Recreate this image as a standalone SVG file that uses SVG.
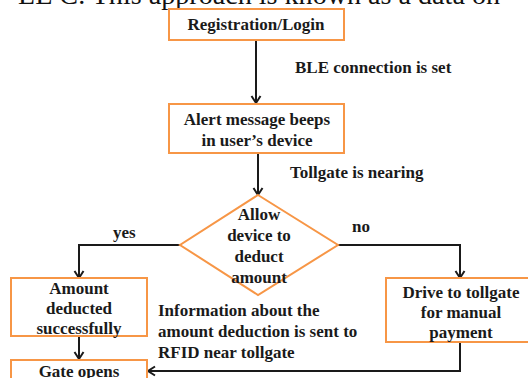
<svg xmlns="http://www.w3.org/2000/svg" width="528" height="378" viewBox="0 0 528 378">
<defs>
<style>
.box{fill:#ffffff;stroke:#F79646;stroke-width:2}
.t{font-family:"Liberation Serif","Times New Roman",serif;font-weight:bold;font-size:17px;fill:#1a1a1a;text-anchor:middle}
.lbl{font-family:"Liberation Serif","Times New Roman",serif;font-weight:bold;font-size:17px;fill:#1a1a1a}
.c{fill:none;stroke:#1a1a1a;stroke-width:2;marker-end:url(#ah)}
</style>
<marker id="ah" markerUnits="userSpaceOnUse" markerWidth="12" markerHeight="12" viewBox="0 0 12 12" refX="10" refY="6" orient="auto">
<path d="M3,1.5 L10,6 L3,10.5" fill="none" stroke="#1a1a1a" stroke-width="2"/>
</marker>
</defs>
<rect width="528" height="378" fill="#ffffff"/>
<text x="18" y="4" font-family="Liberation Serif,serif" font-size="28" fill="#111" textLength="482" lengthAdjust="spacingAndGlyphs">LE C. This approach is known as a data on</text>

<g id="connectors">
<path class="c" d="M256,40 L256,103"/>
<path class="c" d="M258,153 L258,195"/>
<path class="c" d="M180,245 L79,245 L79,278"/>
<path class="c" d="M338,245 L460,245 L460,278"/>
<path class="c" d="M79,336 L79,359"/>
<path class="c" d="M460,342 L460,371 L148,371"/>
</g>

<g id="registration">
<rect class="box" x="169" y="9" width="175" height="31"/>
<text class="t" x="256" y="30">Registration/Login</text>
</g>
<g id="lbl-ble"><text class="lbl" x="295" y="73">BLE connection is set</text></g>

<g id="alert">
<rect class="box" x="169" y="104" width="175" height="49"/>
<text class="t" x="257" y="125">Alert message beeps</text>
<text class="t" x="257" y="146">in user’s device</text>
</g>
<g id="lbl-tollgate"><text class="lbl" x="290" y="178">Tollgate is nearing</text></g>

<g id="decision">
<polygon class="box" points="258,195 338,245 258,295 180,245"/>
<text class="t" x="259" y="220">Allow</text>
<text class="t" x="259" y="241">device to</text>
<text class="t" x="259" y="262">deduct</text>
<text class="t" x="259" y="283">amount</text>
</g>
<g id="lbl-yes"><text class="lbl" x="113" y="238">yes</text></g>
<g id="lbl-no"><text class="lbl" x="352" y="232">no</text></g>

<g id="deducted">
<rect class="box" x="11" y="278" width="136" height="58"/>
<text class="t" x="79" y="294">Amount</text>
<text class="t" x="79" y="314">deducted</text>
<text class="t" x="79" y="334">successfully</text>
</g>

<g id="drive">
<rect class="box" x="386" y="278" width="143" height="64"/>
<text class="t" x="461" y="298">Drive to tollgate</text>
<text class="t" x="461" y="318">for manual</text>
<text class="t" x="461" y="338">payment</text>
</g>

<g id="lbl-info">
<text class="lbl" x="158" y="316">Information about the</text>
<text class="lbl" x="158" y="337">amount deduction is sent to</text>
<text class="lbl" x="158" y="358">RFID near tollgate</text>
</g>

<g id="gate">
<rect class="box" x="11" y="360" width="136" height="30"/>
<text class="t" x="79" y="377">Gate opens</text>
</g>
</svg>
